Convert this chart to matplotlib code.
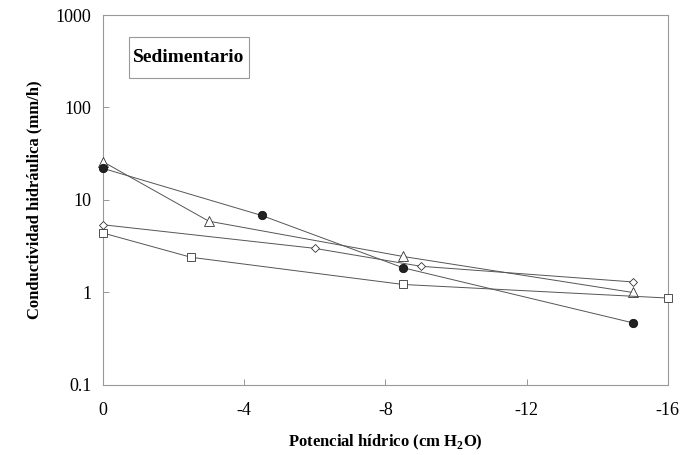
import matplotlib
matplotlib.use("Agg")
import matplotlib.pyplot as plt
from matplotlib.patches import Rectangle
from matplotlib.ticker import FixedLocator, FixedFormatter, NullLocator

plt.rcParams['font.family'] = ['Liberation Serif', 'DejaVu Serif']

# data (x = water potential, y = conductivity)
x_circ = [0, -4.5, -8.5, -15]
y_circ = [22, 6.8, 1.85, 0.47]
x_tri = [0, -3, -8.5, -15]
y_tri = [26, 5.9, 2.45, 1.0]
x_dia = [0, -6, -9, -15]
y_dia = [5.4, 3.0, 1.92, 1.3]
x_sq = [0, -2.5, -8.5, -16]
y_sq = [4.4, 2.4, 1.22, 0.87]

xticks = [0, -4, -8, -12, -16]
yticks = [0.1, 1, 10, 100, 1000]
ylabels = ['0.1', '1', '10', '100', '1000']

fig = plt.figure(figsize=(6.85, 4.55), dpi=100)
ax = fig.add_axes([0.150, 0.154, 0.825, 0.813])

lc = '#555555'
kw = dict(color=lc, lw=0.7, mew=0.6, clip_on=False, zorder=3)
ax.plot(x_tri, y_tri, '-^', mfc='white', mec='#333333', ms=6.5, **kw)
ax.plot(x_dia, y_dia, '-D', mfc='white', mec='#333333', ms=4.5, **kw)
ax.plot(x_sq, y_sq, '-s', mfc='white', mec='#333333', ms=6, **kw)
ax.plot(x_circ, y_circ, '-o', mfc='#222222', mec='#111111', ms=6, **kw)

ax.set_yscale('log')
ax.set_ylim(0.1, 1000)
ax.set_xlim(0, -16)
ax.yaxis.set_major_locator(FixedLocator(yticks))
ax.yaxis.set_major_formatter(FixedFormatter(ylabels))
ax.yaxis.set_minor_locator(NullLocator())
ax.set_xticks(xticks)
ax.set_xticklabels([str(v) for v in xticks])

for s in ax.spines.values():
    s.set_color('#999999')
    s.set_linewidth(0.8)
ax.tick_params(direction='in', length=4, width=0.6, color='#888888',
               labelsize=13, pad=12)
ax.tick_params(axis='y', pad=8)

ax.set_xlabel('Potencial hídrico (cm H$_\\mathregular{2}$O)', fontsize=12,
              fontweight='bold', labelpad=10)
ax.set_ylabel('Conductividad hidráulica (mm/h)', fontsize=12,
              fontweight='bold', labelpad=10)

# label box
ax.add_patch(Rectangle((0.046, 0.830), 0.212, 0.111, transform=ax.transAxes,
                       fc='white', ec='#999999', lw=0.8, zorder=4))
ax.text(0.152, 0.885, 'Sedimentario', transform=ax.transAxes, fontsize=14,
        fontweight='bold', va='center', ha='center', zorder=5)

fig.savefig('out.png', dpi=100)
